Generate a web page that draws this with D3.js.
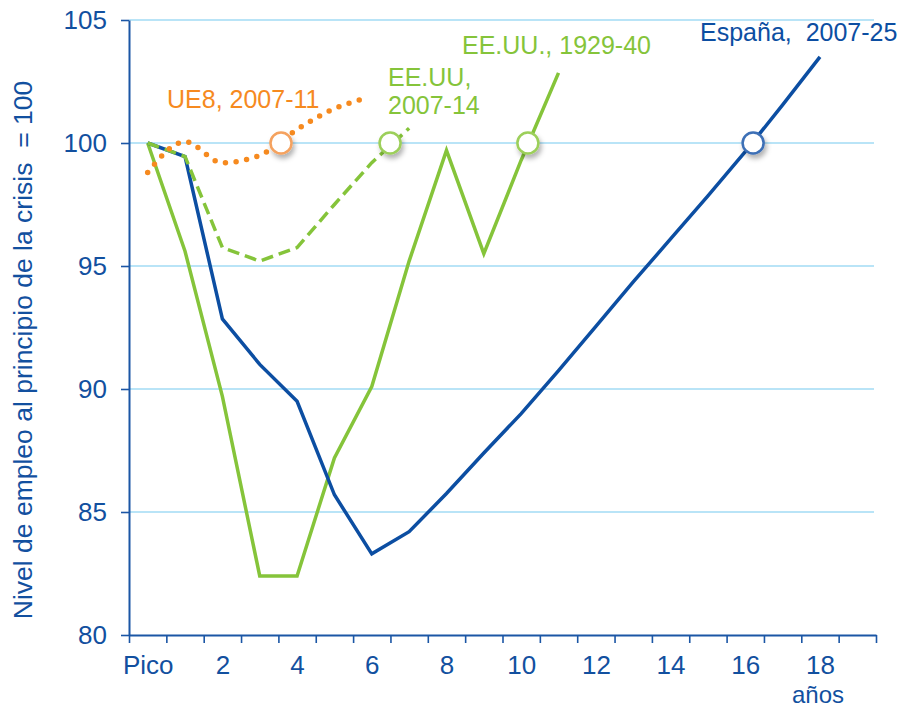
<!DOCTYPE html>
<html>
<head>
<meta charset="utf-8">
<script src="https://cdn.jsdelivr.net/npm/d3@7"></script>
<style>
  body { margin: 0; background: #fff; }
  text { font-family: Arial, "Liberation Sans", sans-serif; }
</style>
</head>
<body>
<div id="chart"></div>
<script>
// years since the peak (0 = "Pico")
const years = d3.range(20);
const xTickLabels = [0, 2, 4, 6, 8, 10, 12, 14, 16, 18];
const yTicks = [80, 85, 90, 95, 100, 105];

const espana = [100, 99.45, 92.85, 91.0, 89.5, 85.7, 83.3, 84.2, 85.75, 87.4,
  89.0, 90.75, 92.55, 94.35, 96.1, 97.85, 99.65, 101.55, 103.5];
const eeuu1929 = [100, 95.6, 89.7, 82.4, 82.4, 87.2, 90.1, 95.2, 99.7, 95.5, 99.3, 102.85];
const eeuu2007 = [100, 99.45, 95.75, 95.2, 95.75, 97.5, 99.2, 100.6];
const ue8Years = [0, 1, 2, 3, 4, 5, 5.67];
const ue8 = [98.8, 100.05, 99.2, 99.5, 100.55, 101.4, 101.75];

// year where each series gets back to 100
const recoveryYears = [3.57, 6.49, 10.18, 16.21];
const recoveryColors = ["#f5a25e", "#9ccf5a", "#9ccf5a", "#3d6fb6"];

const blue = "#0c4ea2", green = "#85c43a", orange = "#f68a1f";

const width = 899, height = 708;
const svg = d3.select("#chart").append("svg")
  .attr("width", width)
  .attr("height", height);

const defs = svg.append("defs");
defs.append("filter")
  .attr("id", "shadow")
  .attr("x", "-50%").attr("y", "-50%").attr("width", "200%").attr("height", "200%")
  .append("feDropShadow")
  .attr("dx", 2).attr("dy", 4)
  .attr("stdDeviation", 2.5)
  .attr("flood-color", "#000")
  .attr("flood-opacity", 0.3);

let x = d3.scaleLinear()
  .domain([-0.5, 19.5])
  .range([129, 876]);

let y = d3.scaleLinear()
  .domain([80, 105])
  .range([635, 20]);

// Gridlines
svg.append("g")
  .selectAll("line")
  .data(yTicks.filter(d => d > 80))
  .enter()
  .append("line")
  .attr("x1", x(-0.5))
  .attr("x2", 874)
  .attr("y1", d => y(d))
  .attr("y2", d => y(d))
  .attr("stroke", "#b9e4f7")
  .attr("stroke-width", 2);

// Axes
let yAxis = svg.append("g")
  .attr("transform", "translate(" + x(-0.5) + ",0)")
  .call(d3.axisLeft(y).tickValues(yTicks).tickSize(8).tickSizeOuter(0).tickPadding(14));

let xTicks = svg.append("g")
  .attr("transform", "translate(0," + y(80) + ")")
  .call(d3.axisBottom(x).tickValues(d3.range(-0.5, 20, 1)).tickSize(8).tickSizeOuter(0).tickFormat(""));

let xLabels = svg.append("g")
  .attr("transform", "translate(0," + y(80) + ")")
  .call(d3.axisBottom(x).tickValues(xTickLabels).tickSize(0).tickPadding(21)
    .tickFormat(d => d === 0 ? "Pico" : d));
xLabels.select(".domain").remove();

[yAxis, xTicks].forEach(g => {
  g.select(".domain").attr("stroke", "#1b56a5").attr("stroke-width", 2);
  g.selectAll(".tick line").attr("stroke", "#1b56a5").attr("stroke-width", 1.6);
});
[yAxis, xLabels].forEach(g => {
  g.selectAll(".tick text")
    .attr("fill", "#12509f")
    .style("font-size", "26px");
});
xLabels.selectAll(".tick text").attr("dy", "0.71em");

svg.append("text")
  .attr("x", x(18) - 2)
  .attr("y", 703)
  .attr("text-anchor", "middle")
  .attr("fill", "#12509f")
  .style("font-size", "24px")
  .text("años");

svg.append("text")
  .attr("transform", "translate(32,350) rotate(-90)")
  .attr("text-anchor", "middle")
  .attr("fill", "#12509f")
  .style("font-size", "26.5px")
  .style("white-space", "pre")
  .text("Nivel de empleo al principio de la crisis  = 100");

// Lines
const line = d3.line()
  .x((d, i) => x(i))
  .y(d => y(d));

svg.append("path")
  .datum(eeuu1929)
  .attr("d", line)
  .attr("fill", "none")
  .attr("stroke", green)
  .attr("stroke-width", 3.5);

svg.append("path")
  .datum(espana)
  .attr("d", line)
  .attr("fill", "none")
  .attr("stroke", blue)
  .attr("stroke-width", 3.5);

svg.append("path")
  .datum(eeuu2007)
  .attr("d", line)
  .attr("fill", "none")
  .attr("stroke", green)
  .attr("stroke-width", 3.5)
  .attr("stroke-dasharray", "12 6");

svg.append("path")
  .datum(ue8)
  .attr("d", d3.line()
    .curve(d3.curveMonotoneX)
    .x((d, i) => x(ue8Years[i]))
    .y(d => y(d)))
  .attr("fill", "none")
  .attr("stroke", orange)
  .attr("stroke-width", 5.5)
  .attr("stroke-linecap", "round")
  .attr("stroke-dasharray", "0 10.7");

// Recovery markers
svg.append("g")
  .selectAll("circle")
  .data(recoveryYears)
  .enter()
  .append("circle")
  .attr("cx", d => x(d))
  .attr("cy", y(100))
  .attr("r", 10.5)
  .attr("fill", "#fff")
  .attr("stroke", (d, i) => recoveryColors[i])
  .attr("stroke-width", 2.5)
  .attr("filter", "url(#shadow)");

// Series labels
const labelSize = "25px";
svg.append("text").attr("x", 167).attr("y", 108).attr("fill", orange)
  .style("font-size", labelSize).text("UE8, 2007-11");
svg.append("text").attr("x", 388).attr("y", 86).attr("fill", green)
  .style("font-size", labelSize).text("EE.UU,");
svg.append("text").attr("x", 388).attr("y", 114).attr("fill", green)
  .style("font-size", labelSize).text("2007-14");
svg.append("text").attr("x", 462).attr("y", 54).attr("fill", green)
  .style("font-size", labelSize).text("EE.UU., 1929-40");
svg.append("text").attr("x", 700).attr("y", 41).attr("fill", blue)
  .style("font-size", labelSize).style("white-space", "pre").text("España,  2007-25");
</script>
</body>
</html>
